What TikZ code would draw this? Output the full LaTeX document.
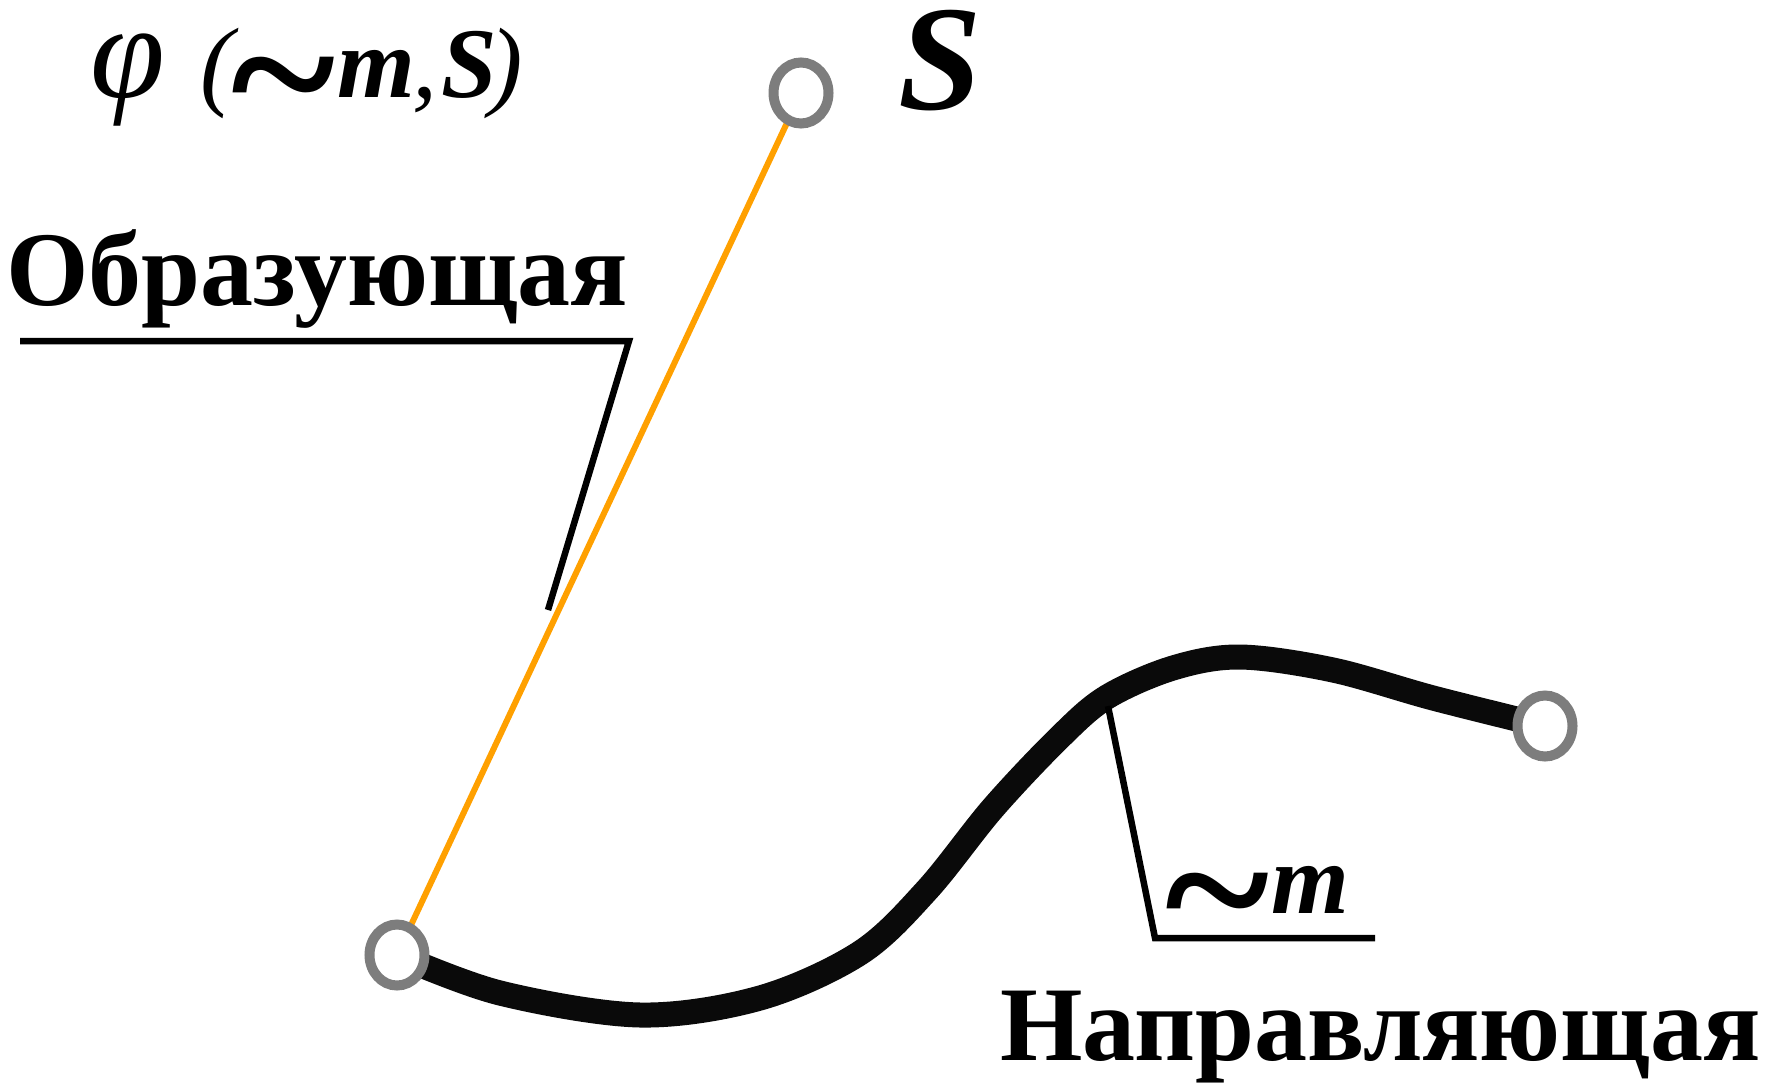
\documentclass[tikz,border=0pt]{standalone}
\usepackage{fontspec}
\setmainfont{Liberation Serif}
\usepackage{tikz}
\usetikzlibrary{positioning,calc,shapes.geometric}

\definecolor{genorange}{RGB}{255,160,0}
\definecolor{ringgray}{RGB}{125,125,125}
\newcommand{\wavetilde}{\raisebox{-40pt}{\scalebox{2.0}[1.9]{\bfseries\textasciitilde}}}

\begin{document}
\begin{tikzpicture}[
    x=1pt, y=-1pt,
    ring/.style={
        ellipse, draw=ringgray, line width=10pt, fill=white,
        inner sep=0pt, minimum width=55pt, minimum height=61pt
    },
    big/.style={
        inner sep=0pt, anchor=base west,
        font=\fontsize{106}{110}\selectfont\bfseries
    },
    sym/.style={
        inner sep=0pt, anchor=base west,
        font=\fontsize{100}{104}\selectfont
    },
    gen/.style={draw=genorange, line width=6pt},
    guide/.style={draw=black!96, line width=25pt},
    lead/.style={draw, line width=6.5pt}
]
\useasboundingbox (0,0) rectangle (1772,1086);

% 1. Points
\coordinate (m0) at (397,955);
\coordinate (s) at (801,93);
\coordinate (m1) at (1545,726);

% 2. Guide curve and generator
\draw[guide] plot[smooth, tension=0.55] coordinates {(m0) (500,993) (640,1015)
    (760,998) (860,953) (927,890) (993,808) (1060,737) (1107,697) (1173,668)
    (1240,657) (1333,670) (1433,698) (m1)};
\draw[gen] (m0) -- (s);

% rings on top
\node[ring] (m0ring) at (m0) {};
\node[ring] (sring) at (s) {};
\node[ring] (m1ring) at (m1) {};

% 3. Leaders
\coordinate (g0) at (548,610);
\coordinate (g1) at (629,341);
\coordinate (g2) at (20,341);
\draw[lead] (g0) -- (g1) -- (g2);
\coordinate (n0) at (1108,706);
\coordinate (n1) at (1155,938);
\coordinate (n2) at (1375,938);
\draw[lead] (n0) -- (n1) -- (n2);

% 4. Labels
\node[big] (obr) at (6,305) {Образующая};
\node[big] (napr) at (1000,1060) {Направляющая};
\node[sym] (phi) at (90,98) {\scalebox{1.35}{\itshape φ}\hspace{36pt}{\itshape (}\hspace{-3pt}\wavetilde\hspace{2pt}{\bfseries\itshape m}\hspace{-2pt}{\itshape ,}\hspace{4pt}{\bfseries\itshape S}\hspace{-8pt}{\itshape )}};
\node[sym, text height=96pt, font=\fontsize{150}{154}\selectfont\bfseries\itshape] (slbl) at (898,110) {S};
\node[sym] (mlbl) at (1165,913) {\wavetilde\hspace{2pt}{\bfseries\itshape m}};

\end{tikzpicture}
\end{document}
